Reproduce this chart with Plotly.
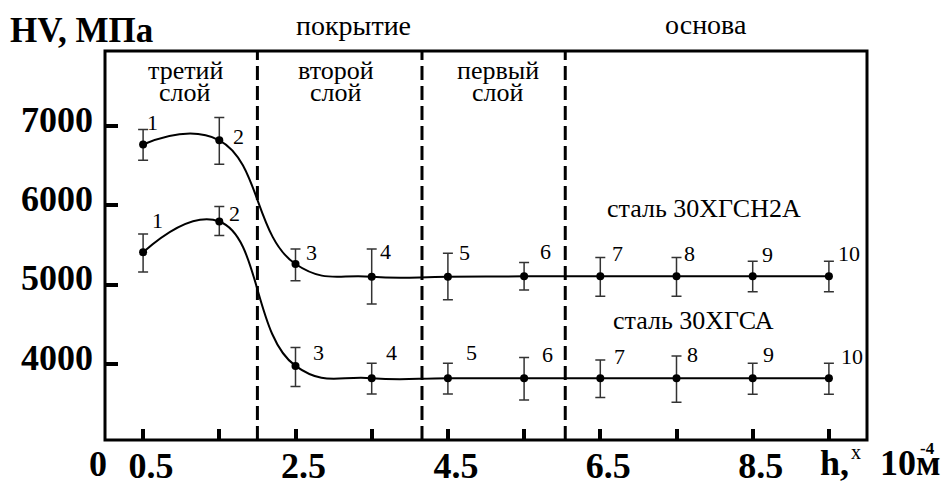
import plotly.graph_objects as go

# ---------------- data ----------------
depth = [0.5, 1.5, 2.5, 3.5, 4.5, 5.5, 6.5, 7.5, 8.5, 9.5]
point_ids = ["1", "2", "3", "4", "5", "6", "7", "8", "9", "10"]

hv_30hgsn2a = [6770, 6823, 5261, 5101, 5101, 5106, 5106, 5106, 5106, 5106]
err_30hgsn2a_plus = [188, 287, 189, 349, 295, 176, 239, 239, 189, 189]
err_30hgsn2a_minus = [199, 303, 211, 344, 290, 173, 252, 252, 194, 194]

hv_30hgsa = [5409, 5798, 3975, 3820, 3820, 3820, 3820, 3820, 3820, 3820]
err_30hgsa_plus = [231, 189, 231, 188, 188, 260, 230, 280, 188, 188]
err_30hgsa_minus = [249, 176, 261, 198, 198, 274, 245, 305, 202, 202]

layer_bounds = [2.0, 4.16, 6.04]
x_tickvals = [0.5, 1.5, 2.5, 3.5, 4.5, 5.5, 6.5, 7.5, 8.5, 9.5]
x_ticktext = ["0.5", "", "2.5", "", "4.5", "", "6.5", "", "8.5", ""]
y_tickvals = [4000, 5000, 6000, 7000]
y_ticktext = ["4000", "5000", "6000", "7000"]

# ---------------- layout geometry ----------------
W, H = 946, 482
ML, MR, MT, MB = 105, 79, 51, 42
PW, PH = W - ML - MR, H - MT - MB


def px(xp):
    return (xp - ML) / PW


def py(yp):
    return (H - MB - yp) / PH


def bold(s):
    return "<b>" + s + "</b>" if s else s


SERIF = "Liberation Serif"

fig = go.Figure()

for yvals, ep, em in [
    (hv_30hgsn2a, err_30hgsn2a_plus, err_30hgsn2a_minus),
    (hv_30hgsa, err_30hgsa_plus, err_30hgsa_minus),
]:
    fig.add_trace(go.Scatter(
        x=depth, y=yvals, mode="lines",
        line=dict(shape="spline", smoothing=1.3, color="black", width=2),
        hoverinfo="skip", showlegend=False,
    ))
    fig.add_trace(go.Scatter(
        x=depth, y=yvals, mode="markers",
        marker=dict(color="black", size=8),
        error_y=dict(type="data", symmetric=False, array=ep, arrayminus=em,
                     color="#333333", thickness=1.5, width=5),
        showlegend=False,
    ))

# layer boundaries
for xb in layer_bounds:
    fig.add_shape(type="line", xref="x", yref="y domain", x0=xb, x1=xb, y0=0, y1=1,
                  line=dict(color="black", width=3, dash="14px,6px"))

# frame
fig.add_shape(type="rect", xref="x domain", yref="y domain", x0=0, x1=1, y0=0, y1=1,
              line=dict(color="black", width=3), layer="above")

ann = []

# point labels
up_shift = [(9, 22), (19, 4), (16, 12), (14, 25), (17, 24), (21, 25),
            (17, 23), (13, 23), (15, 22), (20, 23)]
lo_shift = [(14, 32), (15, 8), (23, 13), (20, 26), (24, 26), (23, 24),
            (19, 22), (16, 24), (16, 24), (23, 22)]
for yvals, shifts in [(hv_30hgsn2a, up_shift), (hv_30hgsa, lo_shift)]:
    for xv, yv, lab, (dx, dy) in zip(depth, yvals, point_ids, shifts):
        ann.append(dict(x=xv, y=yv, xref="x", yref="y", text=lab, showarrow=False,
                        xshift=dx, yshift=dy, xanchor="center", yanchor="middle",
                        font=dict(family=SERIF, size=22, color="black")))


def txt(text, xp, yp, size, is_bold=False, xanchor="center"):
    ann.append(dict(x=px(xp), y=py(yp), xref="paper", yref="paper",
                    text=bold(text) if is_bold else text,
                    showarrow=False, xanchor=xanchor, yanchor="middle",
                    font=dict(family=SERIF, size=size, color="black")))


txt("HV, МПа", 8, 31, 35, is_bold=True, xanchor="left")
txt("покрытие", 353, 26, 28)
txt("основа", 706, 24, 28)
txt("третий", 185, 70, 26)
txt("слой", 185, 93, 26)
txt("второй", 336, 70, 26)
txt("слой", 336, 93, 26)
txt("первый", 498, 70, 26)
txt("слой", 498, 93, 26)
txt("сталь 30ХГСН2А", 704, 208, 26)
txt("сталь 30ХГСА", 693, 320, 26)
txt("0", 98, 464, 36, is_bold=True)
txt("h,", 834, 463, 36, is_bold=True)
txt("x", 856, 452, 20)
txt("10м", 910, 463, 36, is_bold=True)
txt("-4", 927, 448, 17, is_bold=True)

fig.update_layout(
    width=W, height=H,
    margin=dict(l=ML, r=MR, t=MT, b=MB, pad=0, autoexpand=False),
    paper_bgcolor="white", plot_bgcolor="white",
    showlegend=False,
    annotations=ann,
    xaxis=dict(range=[0, 10], tickvals=x_tickvals, ticktext=[bold(t) for t in x_ticktext],
               ticks="inside", ticklen=11, tickwidth=4, tickcolor="black",
               showline=False, automargin=False,
               showgrid=False, zeroline=False,
               tickfont=dict(family=SERIF, size=36, color="black"),
               ticklabelshift=8, ticklabelstandoff=1),
    yaxis=dict(range=[3040, 7950], tickvals=y_tickvals, ticktext=[bold(t) for t in y_ticktext],
               ticks="inside", ticklen=13, tickwidth=4, tickcolor="black",
               showline=False, automargin=False,
               showgrid=False, zeroline=False,
               tickfont=dict(family=SERIF, size=36, color="black"),
               ticklabelshift=-7, ticklabelstandoff=11),
)

fig.write_html("out.html", config={"displayModeBar": False},
               post_script="document.body.style.margin='0';")
